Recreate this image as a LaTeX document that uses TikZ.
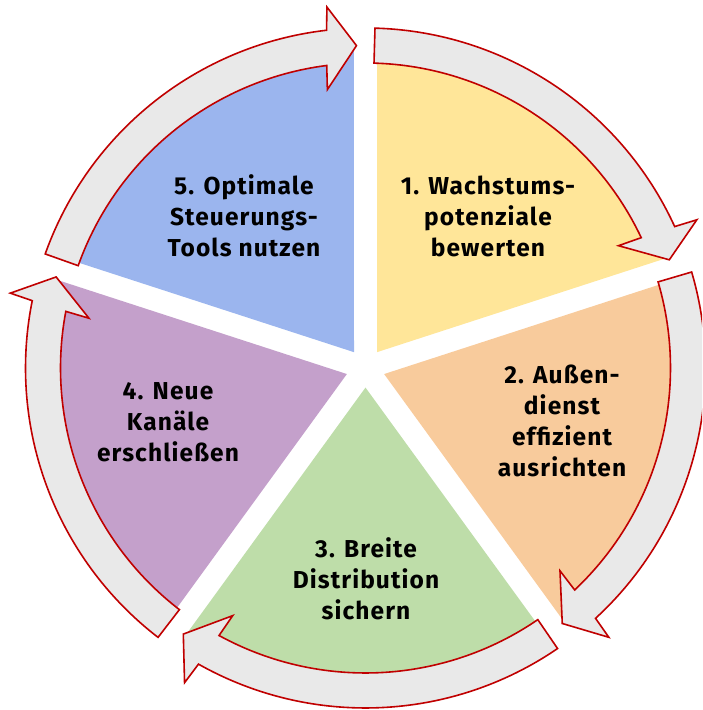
\documentclass[tikz,border=0pt]{standalone}
\usepackage{fontspec}
\setmainfont{Fira Sans}[LetterSpace=4.5]
\definecolor{cY}{HTML}{FFE699}
\definecolor{cO}{HTML}{F8CB9C}
\definecolor{cG}{HTML}{BEDDA9}
\definecolor{cP}{HTML}{C4A0CB}
\definecolor{cB}{HTML}{9BB5EE}
\definecolor{arrowgray}{HTML}{E9E9E9}
\definecolor{arrowred}{HTML}{C00000}
\begin{document}
\begin{tikzpicture}[x=1pt,y=1pt,
  cyclearrow/.style={fill=arrowgray, draw=arrowred, line width=1.6pt, line join=miter},
  steptext/.style={font=\fontsize{24.5}{31}\selectfont\bfseries, align=center, text=black, inner sep=0pt}]
\useasboundingbox (0,0) rectangle (702,710);
\clip (0,0) rectangle (702,710);
\begin{scope}[shift={(365.5,342)}]
\foreach \k/\col in {1/cY,2/cO,3/cG,4/cP,5/cB}{
  \pgfmathsetmacro\a{90-72*(\k-1)}
  \pgfmathsetmacro\b{\a-72}
  \pgfmathsetmacro\m{\a-36}
  \fill[\col] (\m:19.57pt) -- ({\a-2.05}:322pt) arc[start angle=\a-2.05, end angle=\b+2.05, radius=322pt] -- cycle;
}
\foreach \k in {1,...,5}{
  \pgfmathsetmacro\t{90-72*(\k-1)-1.6}
  \pgfmathsetmacro\p{90-72*\k+1.6}
  \draw[cyclearrow] (\t:340pt) arc[start angle=\t, end angle=\p+4.98, radius=340pt]
    -- ({\p+4.5}:363pt) -- (\p:322.5pt) -- ({\p+6.2}:281pt) -- ({\p+5.7}:305pt)
    arc[start angle=\p+5.7, end angle=\t, radius=305pt] -- cycle;
}
\end{scope}
\node[steptext] (s1) at (488,494) {1. Wachstums-\\potenziale\\bewerten};
\node[steptext] (s2) at (562,289) {2. Außen-\\dienst\\effizient\\ausrichten};
\node[steptext] (s3) at (366,131) {3. Breite\\Distribution\\sichern};
\node[steptext] (s4) at (168,288) {4. Neue\\Kanäle\\erschließen};
\node[steptext] (s5) at (244,494) {5. Optimale\\Steuerungs-\\Tools nutzen};
\end{tikzpicture}
\end{document}
